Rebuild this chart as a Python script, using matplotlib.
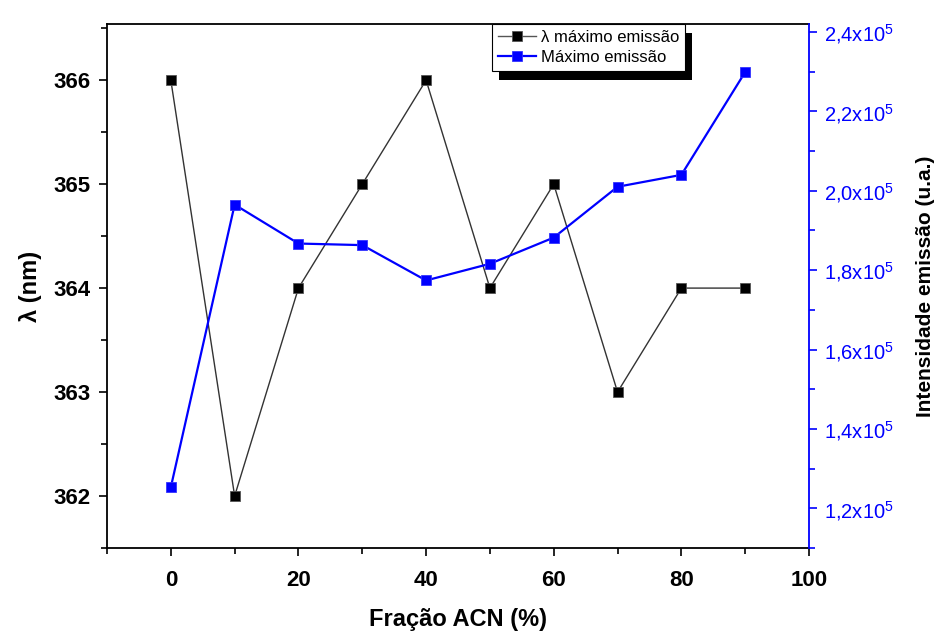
import matplotlib.pyplot as plt
import matplotlib.patches as mpatches
from matplotlib.ticker import MultipleLocator, FuncFormatter

plt.rcParams['font.family'] = ['Liberation Sans', 'DejaVu Sans']
plt.rcParams['mathtext.fontset'] = 'custom'
plt.rcParams['mathtext.rm'] = 'Liberation Sans'

fracao_acn = [0, 10, 20, 30, 40, 50, 60, 70, 80, 90]
lambda_max = [366, 362, 364, 365, 366, 364, 365, 363, 364, 364]
intensidade_max = [1.253e5, 1.965e5, 1.867e5, 1.863e5, 1.774e5,
                   1.816e5, 1.882e5, 2.010e5, 2.040e5, 2.299e5]

azul = '#0000ff'

fig = plt.figure(figsize=(9.37, 6.32), dpi=100)
ax = fig.add_axes([0.1142, 0.1329, 0.7492, 0.8291])
ax2 = ax.twinx()

l1, = ax.plot(fracao_acn, lambda_max, color='#333333', linewidth=1.0,
              marker='s', markersize=7.5, markerfacecolor='black',
              markeredgecolor='#555555', markeredgewidth=0.6,
              label='λ máximo emissão')
l2, = ax2.plot(fracao_acn, intensidade_max, color=azul, linewidth=1.6,
               marker='s', markersize=7.5, markerfacecolor=azul,
               markeredgecolor='#3333ff', markeredgewidth=0.6,
               label='Máximo emissão')

ax.set_xlim(-10, 100)
ax.set_ylim(361.5, 366.54)
ax2.set_ylim(1.1e5, 2.42e5)

ax.xaxis.set_major_locator(MultipleLocator(20))
ax.xaxis.set_minor_locator(MultipleLocator(10))
ax.yaxis.set_major_locator(MultipleLocator(1))
ax.yaxis.set_minor_locator(MultipleLocator(0.5))
ax2.yaxis.set_major_locator(MultipleLocator(0.2e5))
ax2.yaxis.set_minor_locator(MultipleLocator(0.1e5))


def fmt_intensidade(v, pos):
    return ('%.1f' % (v / 1e5)).replace('.', ',') + r'x10$^{5}$'


ax2.yaxis.set_major_formatter(FuncFormatter(fmt_intensidade))

for a in (ax, ax2):
    a.tick_params(which='major', direction='out', length=6, width=1.2)
    a.tick_params(which='minor', direction='out', length=4, width=1.2)

ax.tick_params(axis='x', labelsize=16, pad=10)
ax.tick_params(axis='y', labelsize=16, pad=6)
for lab in ax.get_xticklabels() + ax.get_yticklabels():
    lab.set_fontweight('bold')
ax.tick_params(axis='y', which='both', right=False)
ax.tick_params(axis='x', which='both', top=False)

ax2.tick_params(axis='y', which='both', colors=azul, labelsize=14.5, pad=5)
ax2.spines['right'].set_color(azul)
ax2.spines['right'].set_linewidth(1.3)
for nome in ('left', 'bottom', 'top'):
    ax.spines[nome].set_linewidth(1.3)
ax2.spines['left'].set_visible(False)
ax2.spines['bottom'].set_visible(False)
ax2.spines['top'].set_visible(False)
ax.spines['right'].set_visible(False)

ax.set_xlabel('Fração ACN (%)', fontsize=17, fontweight='bold', labelpad=12)
ax.set_ylabel('λ (nm)', fontsize=17, fontweight='bold', labelpad=8)
ax2.set_ylabel('Intensidade emissão (u.a.)', fontsize=15, fontweight='bold',
               labelpad=16)

leg = ax2.legend(handles=[l1, l2], loc='upper left',
                 bbox_to_anchor=(0.548, 1.0), fontsize=12, frameon=True,
                 fancybox=False, edgecolor='black', framealpha=1,
                 borderpad=0.35, handlelength=2.3, handletextpad=0.3,
                 labelspacing=0.3, borderaxespad=0.0)
leg.get_frame().set_linewidth(0.8)
leg.legend_handles[0].set_color('#555555')
leg.legend_handles[0].set_markerfacecolor('black')

fig.canvas.draw()
bb = leg.get_window_extent().transformed(fig.transFigure.inverted())
sombra = mpatches.Rectangle((bb.x0 + 7 / 937, bb.y0 - 9 / 632), bb.width, bb.height,
                            transform=fig.transFigure, facecolor='black',
                            edgecolor='none', zorder=0.5)
fig.patches.append(sombra)
ax.set_zorder(1)
ax2.set_zorder(2)
ax.patch.set_visible(False)
ax2.patch.set_visible(False)

fig.savefig('out.png', dpi=100)
